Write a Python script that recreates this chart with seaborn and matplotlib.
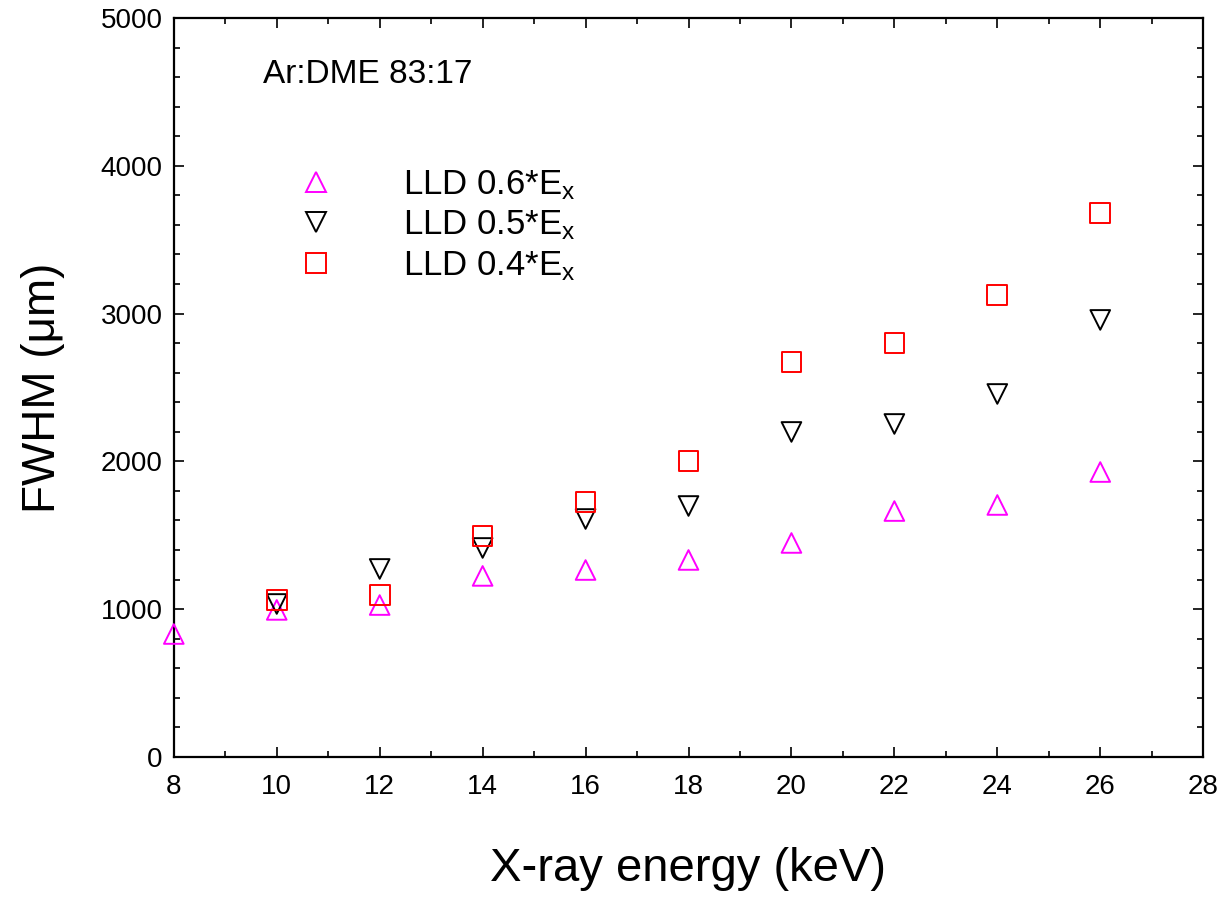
import numpy as np
import pandas as pd
import matplotlib
matplotlib.use('Agg')
import matplotlib.pyplot as plt
from matplotlib.ticker import MultipleLocator
import seaborn as sns

# FWHM vs X-ray energy, Ar:DME 83:17
energy_06 = [8, 10, 12, 14, 16, 18, 20, 22, 24, 26]
fwhm_06 = [832, 995, 1028, 1225, 1265, 1333, 1448, 1664, 1705, 1928]

energy_05 = [10, 12, 14, 16, 18, 20, 22, 24, 26]
fwhm_05 = [1035, 1272, 1414, 1610, 1698, 2199, 2253, 2456, 2957]

energy_04 = [10, 12, 14, 16, 18, 20, 22, 24, 26]
fwhm_04 = [1062, 1096, 1495, 1725, 2003, 2673, 2801, 3126, 3681]

labels = [r'LLD 0.6*E$_\mathregular{x}$', r'LLD 0.5*E$_\mathregular{x}$', r'LLD 0.4*E$_\mathregular{x}$']
colors = ['#ff00ff', 'black', '#ff0000']
markers = ['^', 'v', 's']

sns.set_style('ticks')
plt.rcParams['font.family'] = ['Liberation Sans', 'DejaVu Sans']
plt.rcParams['mathtext.fontset'] = 'custom'
plt.rcParams['mathtext.rm'] = 'Liberation Sans'
plt.rcParams['mathtext.it'] = 'Liberation Sans'
for k in ['text.color', 'axes.labelcolor', 'xtick.color', 'ytick.color', 'axes.edgecolor']:
    plt.rcParams[k] = 'black'

fig = plt.figure(figsize=(12.24, 8.99), dpi=100)
ax = fig.add_axes([0.142, 0.158, 0.841, 0.822])

series = [(energy_06, fwhm_06), (energy_05, fwhm_05), (energy_04, fwhm_04)]
handles = []
for (xs, ys), lab, c, m in zip(series, labels, colors, markers):
    df = pd.DataFrame({'energy': xs, 'fwhm': ys})
    sns.scatterplot(data=df, x='energy', y='fwhm', marker=m, s=200,
                    facecolors='none', edgecolors=c, linewidths=1.4, ax=ax,
                    clip_on=False, zorder=3)
    handles.append(plt.Line2D([], [], linestyle='none', marker=m, markersize=14.5,
                              markerfacecolor='none', markeredgecolor=c,
                              markeredgewidth=1.4))

ax.set_xlim(8, 28)
ax.set_ylim(0, 5000)
ax.xaxis.set_major_locator(MultipleLocator(2))
ax.xaxis.set_minor_locator(MultipleLocator(1))
ax.yaxis.set_major_locator(MultipleLocator(1000))
ax.yaxis.set_minor_locator(MultipleLocator(200))
ax.tick_params(which='both', direction='in', top=True, right=True, width=1.2,
               labelsize=20)
ax.tick_params(axis='x', pad=12)
ax.tick_params(axis='y', pad=8)
ax.tick_params(which='major', length=7)
ax.tick_params(which='minor', length=4)
for sp in ax.spines.values():
    sp.set_linewidth(1.6)
    sp.set_visible(True)

ax.set_xlabel('X-ray energy (keV)', fontsize=34, labelpad=34)
ax.set_ylabel('FWHM (\u03bcm)', fontsize=33, labelpad=26)

ax.text(0.0865, 0.912, 'Ar:DME 83:17', transform=ax.transAxes, fontsize=24,
        ha='left', va='baseline')

ax.legend(handles, labels, loc='upper left', bbox_to_anchor=(0.1043, 0.797),
          frameon=False, fontsize=25, borderpad=0, borderaxespad=0,
          handlelength=2, handletextpad=1.5, labelspacing=0.2)

fig.savefig('out.png', dpi=100)
